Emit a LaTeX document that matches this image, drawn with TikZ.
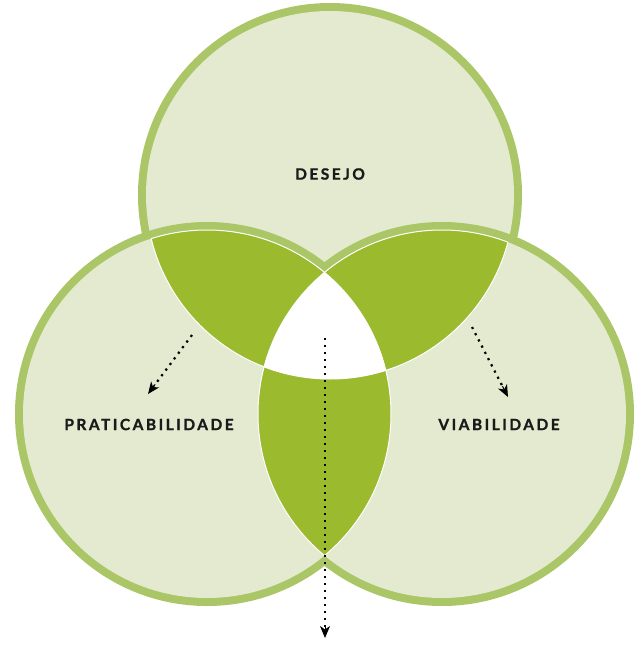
\documentclass[tikz,border=0pt]{standalone}
\usepackage{fontspec}
\setmainfont{Lato}
\usetikzlibrary{arrows.meta,calc}
\definecolor{fillc}{HTML}{E3EACF}
\definecolor{ringc}{HTML}{AAC667}
\definecolor{darkc}{HTML}{9BBA2E}
\definecolor{txtc}{HTML}{1A1A1A}
\tikzset{
  lbl/.style={text=txtc, font=\fontsize{15.5}{18}\selectfont\bfseries\addfontfeature{LetterSpace=16,FakeBold=1.2}, inner sep=0pt},
  dotline/.style={line width=2.2pt, dash pattern=on 2.2pt off 4.8pt, shorten >=10pt},
  tipline/.style={solid, line width=1pt, -{Stealth[length=12pt,width=10pt,inset=3.5pt]}},
  sepline/.style={white, line width=1pt}
}
\begin{document}
\begin{tikzpicture}[x=1pt,y=-1pt]
\useasboundingbox (0,0) rectangle (633,646);
\def\Ro{192pt}
\def\Ri{184pt}
\coordinate (T) at (330,195);
\coordinate (L) at (207,414);
\coordinate (R) at (442,414);
% circles
\fill[ringc] (T) circle (\Ro);
\fill[fillc] (T) circle (\Ri);
\fill[ringc] (L) circle (\Ro);
\fill[ringc] (R) circle (\Ro);
\fill[fillc] (L) circle (\Ri);
\fill[fillc] (R) circle (\Ri);
% lenses
\begin{scope}
  \clip (T) circle (\Ri); \clip (L) circle (\Ri);
  \fill[darkc] (0,0) rectangle (633,646);
\end{scope}
\begin{scope}
  \clip (T) circle (\Ri); \clip (R) circle (\Ri);
  \fill[darkc] (0,0) rectangle (633,646);
\end{scope}
\begin{scope}
  \clip (L) circle (\Ri); \clip (R) circle (\Ri);
  \fill[darkc] (0,0) rectangle (633,646);
\end{scope}
\begin{scope}
  \clip (T) circle (\Ri); \clip (L) circle (\Ri); \clip (R) circle (\Ri);
  \fill[white] (0,0) rectangle (633,646);
\end{scope}
% separation lines
\begin{scope}
  \clip (L) circle (\Ri) (R) circle (\Ri);
  \draw[sepline] (T) circle (\Ri);
\end{scope}
\begin{scope}
  \clip (T) circle (\Ri) (R) circle (\Ri);
  \draw[sepline] (L) circle (\Ri);
\end{scope}
\begin{scope}
  \clip (T) circle (\Ri) (L) circle (\Ri);
  \draw[sepline] (R) circle (\Ri);
\end{scope}
% labels
\node[lbl] (desejo) at (330,174) {DESEJO};
\node[lbl] (prat) at (149,424.5) {PRATICABILIDADE};
\node[lbl] (viab) at (499,424.5) {VIABILIDADE};
% arrows
\coordinate (a1s) at (192,335);
\coordinate (a1e) at (148,394);
\coordinate (a2s) at (472,327);
\coordinate (a2e) at (508,397);
\coordinate (a3s) at (325,338);
\coordinate (a3e) at (325,638);
\draw[dotline] (a1s) -- (a1e);
\draw[dotline] (a2s) -- (a2e);
\draw[dotline] (a3s) -- (a3e);
\draw[tipline] ($(a1e)!12pt!(a1s)$) -- (a1e);
\draw[tipline] ($(a2e)!12pt!(a2s)$) -- (a2e);
\draw[tipline] ($(a3e)!12pt!(a3s)$) -- (a3e);
\end{tikzpicture}
\end{document}
